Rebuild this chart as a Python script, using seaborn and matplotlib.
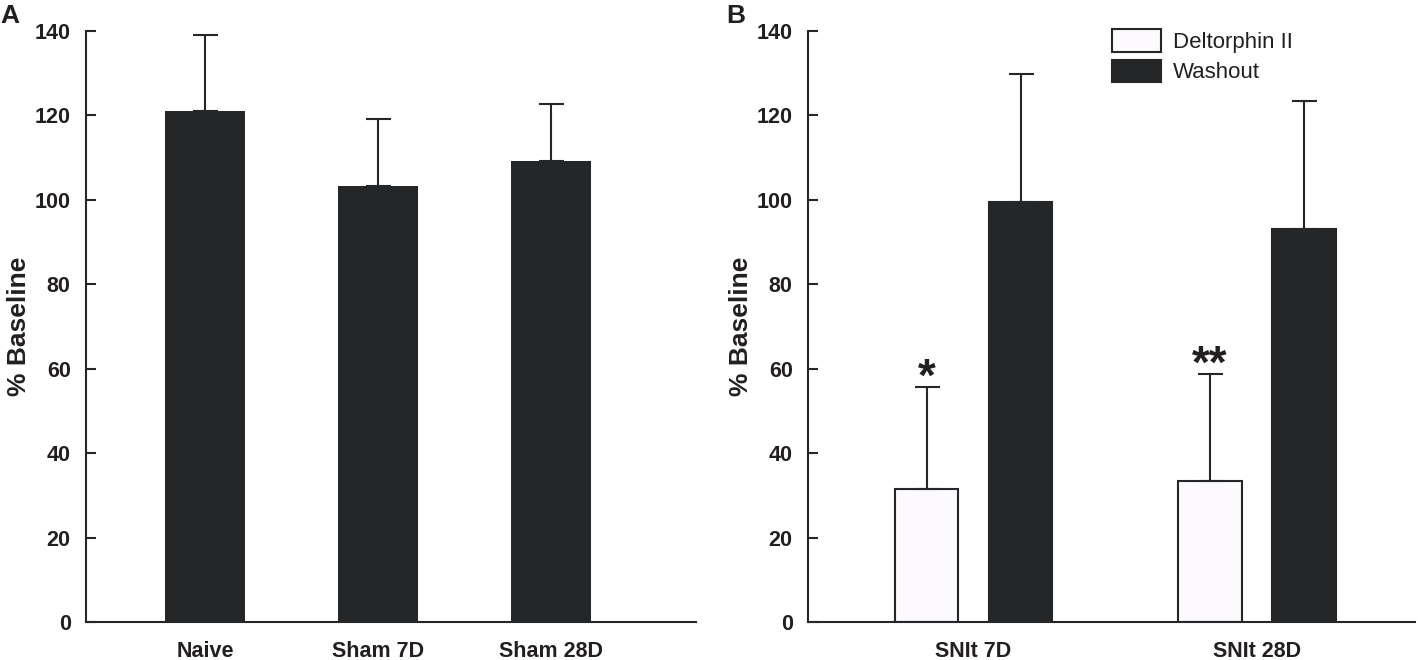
import matplotlib
matplotlib.use("Agg")
import matplotlib.pyplot as plt
from matplotlib.patches import Patch
import seaborn as sns
import pandas as pd
import numpy as np

# ---- data ----
cats_A = ["Naive", "Sham 7D", "Sham 28D"]
mean_A = [121.1, 103.4, 109.1]
sem_A = [18.0, 15.7, 13.6]

groups_B = ["SNIt 7D", "SNIt 28D"]
conditions_B = ["Deltorphin II", "Washout"]
delt_mean = [31.5, 33.4]
delt_sem = [24.1, 25.4]
wash_mean = [99.4, 93.2]
wash_sem = [30.3, 30.3]
stars_B = ["*", "**"]
yticks = [0, 20, 40, 60, 80, 100, 120, 140]

DARK = "#252628"
WHITE = "#fcfafc"
TXT = "#231f20"

sns.set_theme(style="white")
plt.rcParams["font.family"] = ["Liberation Sans", "DejaVu Sans"]
plt.rcParams["text.color"] = TXT
plt.rcParams["axes.labelcolor"] = TXT
plt.rcParams["xtick.color"] = TXT
plt.rcParams["ytick.color"] = TXT

W, H = 1418, 660
fig = plt.figure(figsize=(W / 100, H / 100), dpi=100)
axA = fig.add_axes([86 / W, 38 / H, 610 / W, 591 / H])
axB = fig.add_axes([808 / W, 38 / H, 607 / W, 591 / H])

# ---- panel A ----
dfA = pd.DataFrame({"group": cats_A, "value": mean_A})
sns.barplot(data=dfA, x="group", y="value", color=DARK, width=0.46,
            errorbar=None, ax=axA, linewidth=0, saturation=1)
xs = [p.get_x() + p.get_width() / 2 for p in axA.patches]
hs = [p.get_height() for p in axA.patches]
axA.errorbar(xs, hs, yerr=[np.zeros(len(sem_A)), sem_A], fmt="none",
             ecolor=DARK, elinewidth=1.5, capsize=9, capthick=1.5, zorder=3)
axA.set_xlim(-0.688, 2.838)

# ---- panel B ----
dfB = pd.DataFrame({
    "group": groups_B * 2,
    "condition": [conditions_B[0]] * 2 + [conditions_B[1]] * 2,
    "value": delt_mean + wash_mean,
})
sns.barplot(data=dfB, x="group", y="value", hue="condition",
            hue_order=conditions_B,
            palette={conditions_B[0]: WHITE, conditions_B[1]: DARK},
            width=0.664, gap=0.325, errorbar=None, ax=axB,
            edgecolor=DARK, linewidth=1.5, saturation=1)
sems = [delt_sem, wash_sem]
for cont, sem in zip(axB.containers, sems):
    bx = [p.get_x() + p.get_width() / 2 for p in cont.patches]
    bh = [p.get_height() for p in cont.patches]
    axB.errorbar(bx, bh, yerr=[np.zeros(len(sem)), sem], fmt="none",
                 ecolor=DARK, elinewidth=1.5, capsize=9, capthick=1.5, zorder=3)
# significance stars above Deltorphin bars
dcont = axB.containers[0]
for p, s, st in zip(dcont.patches, delt_sem, stars_B):
    x = p.get_x() + p.get_width() / 2
    axB.annotate(st, xy=(x, p.get_height() + s), xytext=(0, -2.5),
                 textcoords="offset points", ha="center", va="baseline",
                 fontsize=33, fontweight="bold", color=TXT)
axB.set_xlim(-0.584, 1.557)
if axB.get_legend() is not None:
    axB.get_legend().remove()

handles = [Patch(facecolor=WHITE, edgecolor=DARK, linewidth=1.5),
           Patch(facecolor=DARK, edgecolor=DARK, linewidth=1.5)]
fig.legend(handles, conditions_B, loc="upper left",
           bbox_to_anchor=(1112 / W, 1 - 29 / H), frameon=False,
           fontsize=16, handlelength=2.2, handleheight=1.2,
           handletextpad=0.55, labelspacing=0.3, borderpad=0,
           borderaxespad=0)

# ---- common styling ----
for ax in (axA, axB):
    ax.set_ylim(0, 140)
    ax.set_yticks(yticks)
    ax.set_xlabel("")
    ax.set_ylabel("% Baseline", fontsize=19, fontweight="bold")
    ax.yaxis.set_label_coords(-0.090, 0.5)
    sns.despine(ax=ax)
    for sp in ("left", "bottom"):
        ax.spines[sp].set_linewidth(1.5)
        ax.spines[sp].set_color(DARK)
    ax.tick_params(axis="y", left=True, direction="in", length=7, width=1.5,
                   pad=11, labelsize=15.5, color=DARK)
    ax.tick_params(axis="x", bottom=False, length=0, pad=14, labelsize=15.5)
    for lab in ax.get_yticklabels() + ax.get_xticklabels():
        lab.set_fontweight("bold")

fig.text(0.0, 1 - 4 / H, "A", ha="left", va="top", fontsize=19, fontweight="bold")
fig.text(726 / W, 1 - 4 / H, "B", ha="left", va="top", fontsize=19, fontweight="bold")

fig.savefig("out.png", dpi=100)
